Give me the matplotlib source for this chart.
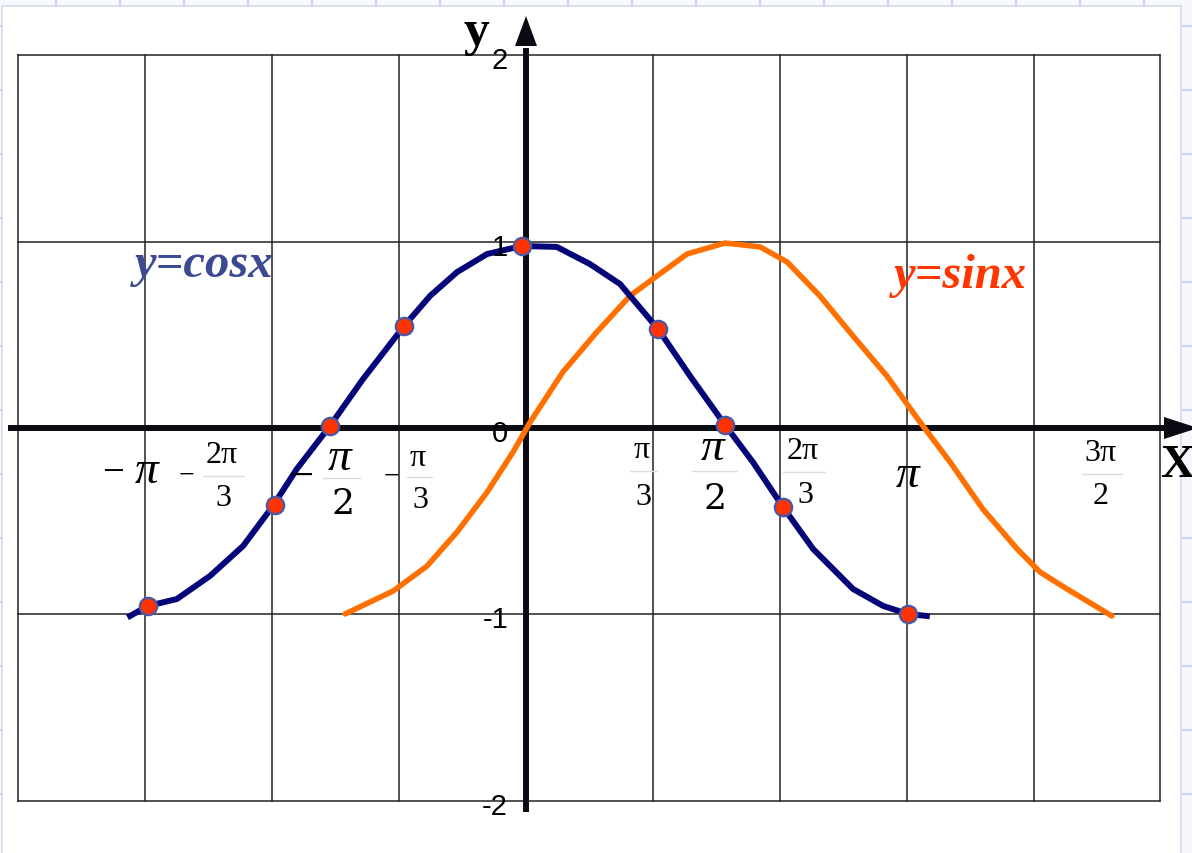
import matplotlib
matplotlib.use('Agg')
import matplotlib.pyplot as plt
from matplotlib.patches import Rectangle

# --- values (x in units of pi) ---
cos_x = [-1.040, -0.993, -0.917, -0.830, -0.743, -0.665, -0.602, -0.515, -0.428, -0.320,
         -0.252, -0.181, -0.102, -0.011, 0.081, 0.168, 0.247, 0.347, 0.431, 0.523,
         0.596, 0.675, 0.754, 0.859, 0.938, 1.003, 1.053]
cos_y = [-1.009, -0.955, -0.918, -0.794, -0.633, -0.419, -0.220, 0.011, 0.263, 0.548,
         0.709, 0.837, 0.934, 0.977, 0.972, 0.880, 0.773, 0.531, 0.279, 0.016,
         -0.183, -0.424, -0.649, -0.864, -0.955, -0.998, -1.009]

sin_x = [-0.475, -0.349, -0.260, -0.181, -0.102, -0.034, 0.011, 0.097, 0.186, 0.273,
         0.344, 0.423, 0.523, 0.615, 0.686, 0.772, 0.859, 0.948, 1.035, 1.114,
         1.200, 1.290, 1.350, 1.421, 1.539]
sin_y = [-0.998, -0.875, -0.741, -0.558, -0.344, -0.129, 0.032, 0.301, 0.515, 0.709,
         0.816, 0.934, 0.993, 0.972, 0.891, 0.709, 0.494, 0.279, 0.032, -0.183,
         -0.435, -0.649, -0.773, -0.864, -1.009]

# red dots on the cosine
dot_x = [-0.993, -0.659, -0.515, -0.320, -0.011, 0.347, 0.523, 0.675, 1.003]
dot_y = [-0.955, -0.413, 0.011, 0.548, 0.977, 0.531, 0.016, -0.424, -0.998]

y_ticks = [2, 1, 0, -1, -2]
x_grid = [-4/3, -1, -2/3, -1/3, 0, 1/3, 2/3, 1, 4/3, 5/3]

W, H = 1192, 854
X0, Y0 = 526, 429          # pixel position of the origin
SX, SY = 380.7, 186.3      # pixels per pi / per unit

SERIF = ['Liberation Serif', 'DejaVu Serif']
NARROW = ['Liberation Sans Narrow', 'Liberation Sans', 'DejaVu Sans']

fig = plt.figure(figsize=(W / 100, H / 100), dpi=100, facecolor='#f6f8fe')

# background sheet with the faint blue grid
bg = fig.add_axes([0, 0, 1, 1], zorder=0)
bg.set_xlim(0, W)
bg.set_ylim(H, 0)
bg.axis('off')
for gx in range(56, W, 64):
    bg.plot([gx, gx], [0, H], color='#c6d4f6', lw=1.5, zorder=1)
for gy in range(27, H + 64, 64):
    bg.plot([0, W], [gy, gy], color='#c6d4f6', lw=1.5, zorder=1)
bg.add_patch(Rectangle((2, 7), 1179, H, facecolor='white', edgecolor='#d5dbe8',
                       lw=1.2, zorder=3))

ax = fig.add_axes([0, 0, 1, 1], zorder=1)
ax.set_facecolor('none')
ax.set_xlim(-X0 / SX, (W - X0) / SX)
ax.set_ylim(-(H - Y0) / SY, Y0 / SY)
ax.axis('off')
P = bg.transData  # pixel coordinates for labels

# grid
for gx in x_grid:
    ax.plot([gx, gx], [-2, 2], color='#222222', lw=1.1, zorder=1)
for gy in y_ticks:
    ax.plot([x_grid[0], x_grid[-1]], [gy, gy], color='#222222', lw=1.1, zorder=1)

# axes with arrows
axc = '#0b0b14'
ax.plot([(8 - X0) / SX, (1166 - X0) / SX], [0, 0], color=axc, lw=4.3, zorder=3,
        solid_capstyle='butt')
ax.plot([0, 0], [(Y0 - 813) / SY, (Y0 - 49) / SY], color=axc, lw=4.3, zorder=3,
        solid_capstyle='butt')
ax.fill([(1164 - X0) / SX, (1164 - X0) / SX, (1198 - X0) / SX],
        [11 / SY, -11 / SY, 0], color=axc, zorder=3, lw=0)
ax.fill([-11 / SX, 11 / SX, 0], [(Y0 - 47) / SY, (Y0 - 47) / SY, (Y0 - 17) / SY],
        color=axc, zorder=3, lw=0)

# curves
ax.plot(sin_x, sin_y, color='#ff7000', lw=4.0, zorder=4, solid_joinstyle='round',
        solid_capstyle='round')
ax.plot(cos_x, cos_y, color='#05057a', lw=4.3, zorder=5, solid_joinstyle='round')
ax.plot(dot_x, dot_y, 'o', ms=12.5, mfc='#ff3300', mec='#4a58a8', mew=1.6, zorder=6)

# y tick labels
for v in y_ticks:
    ax.text(508, Y0 - v * SY + 5, str(v), transform=P, ha='right', va='center',
            fontsize=21, family=NARROW, color='black', zorder=7)

# axis names
ax.text(476, 33, 'y', transform=P, ha='center', va='center', fontsize=37,
        fontweight='bold', family=SERIF, zorder=7)
ax.text(1160, 466, 'X', transform=P, ha='left', va='center', fontsize=34,
        fontweight='bold', family=SERIF, zorder=7)

# curve names
ax.text(204, 265, 'y=cosx', transform=P, ha='center', va='center', fontsize=35,
        fontweight='bold', style='italic', family=SERIF, color='#3d4993', zorder=7)
ax.text(960, 276, 'y=sinx', transform=P, ha='center', va='center', fontsize=35,
        fontweight='bold', style='italic', family=SERIF, color='#ff3600', zorder=7)


def txt(x, y, s, size, fam=SERIF, **kw):
    ax.text(x, y, s, transform=P, ha='center', va='center', fontsize=size,
            family=fam, color='black', zorder=7, **kw)


def bar(x1, x2, y):
    ax.plot([x1, x2], [y, y], transform=P, color='#dcdcdc', lw=1.0, zorder=7)


BIG2 = ['DejaVu Serif']
# x labels: -pi
txt(113, 474, '−', 28)
txt(147, 472, 'π', 34, style='italic')
# -2pi/3
txt(186, 476, '−', 20)
txt(222, 456, '2π', 23)
bar(203, 244, 477)
txt(223, 499, '3', 23)
# -pi/2
txt(301, 478, '−', 32)
txt(340, 459, 'π', 34, style='italic')
bar(323, 360, 479)
txt(343, 504, '2', 26, fam=BIG2)
# -pi/3
txt(391, 477, '−', 20)
txt(418, 459, 'π', 23)
bar(407, 432, 478)
txt(420, 501, '3', 23)
# pi/3
txt(642, 451, 'π', 23)
bar(630, 657, 472)
txt(643, 498, '3', 23)
# pi/2
txt(713, 449, 'π', 34, style='italic')
bar(692, 737, 472)
txt(715, 499, '2', 26, fam=BIG2)
# 2pi/3
txt(803, 452, '2π', 23)
bar(783, 825, 473)
txt(805, 496, '3', 23)
# pi
txt(908, 476, 'π', 34, style='italic')
# 3pi/2
txt(1101, 454, '3π', 23)
bar(1082, 1122, 475)
txt(1101, 497, '2', 23)

fig.savefig('out.png', dpi=100, facecolor=fig.get_facecolor())
